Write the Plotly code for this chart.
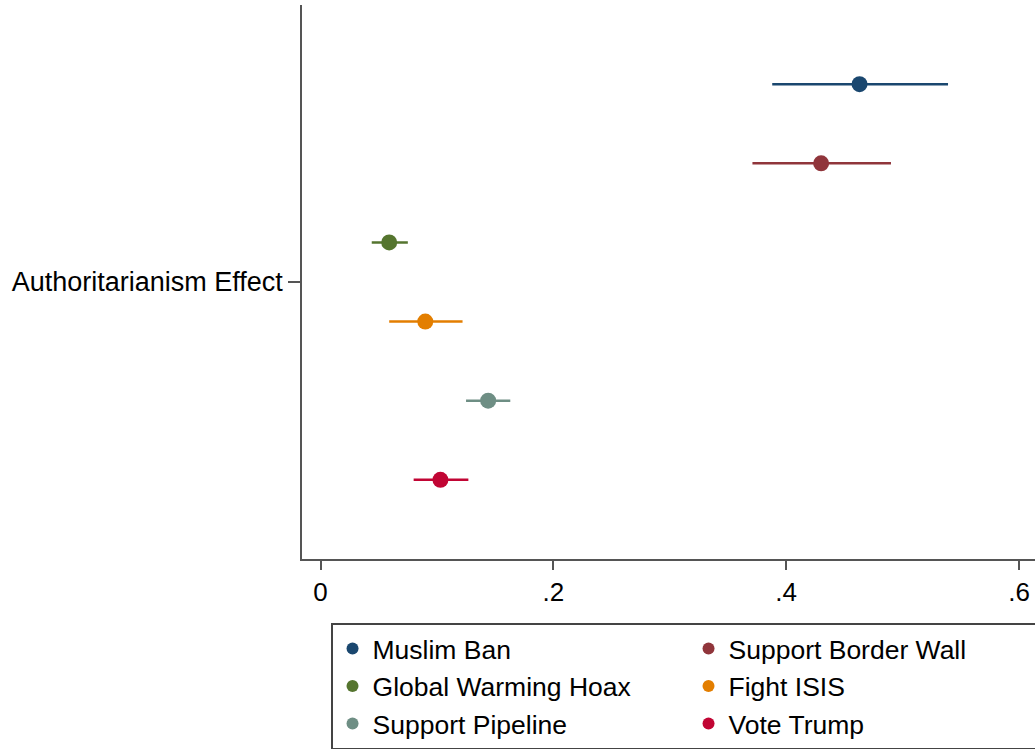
import plotly.graph_objects as go

series = ["Muslim Ban", "Support Border Wall", "Global Warming Hoax",
          "Fight ISIS", "Support Pipeline", "Vote Trump"]
estimates = [0.463, 0.430, 0.059, 0.090, 0.144, 0.103]
ci_low = [0.388, 0.371, 0.044, 0.059, 0.125, 0.080]
ci_high = [0.539, 0.490, 0.075, 0.122, 0.163, 0.127]
colors = ["#1a476f", "#90353b", "#55752f", "#e37e00", "#6e8e84", "#c10534"]
category = "Authoritarianism Effect"
x_ticks = [0, 0.2, 0.4, 0.6]
x_labels = ["0", ".2", ".4", ".6"]

n = len(series)
fig = go.Figure()
for i, name in enumerate(series):
    off = (n - 1) / 2 - i
    fig.add_trace(go.Scatter(
        x=[estimates[i]], y=[off], mode="markers", name=name,
        marker=dict(color=colors[i], size=16, line=dict(width=0)),
        error_x=dict(type="data", symmetric=False,
                     array=[ci_high[i] - estimates[i]],
                     arrayminus=[estimates[i] - ci_low[i]],
                     color=colors[i], thickness=2.5, width=0),
    ))

font = "Liberation Sans, Arial, Helvetica, sans-serif"
fig.update_layout(
    width=1035, height=754,
    margin=dict(l=302, r=0, t=5, b=195, autoexpand=False),
    plot_bgcolor="white", paper_bgcolor="white",
    font=dict(family=font, size=25, color="black"),
    showlegend=True,
    legend=dict(
        orientation="h", x=0.0396, xanchor="left", y=-0.116, yanchor="top",
        bordercolor="#444", borderwidth=1.5, bgcolor="white",
        entrywidth=311, entrywidthmode="pixels",
        font=dict(size=26.5, family=font), tracegroupgap=0,
        itemsizing="constant",
    ),
    xaxis=dict(
        range=[-0.0159, 0.6137], tickvals=x_ticks, ticktext=x_labels,
        showgrid=False, zeroline=False, showline=True, linecolor="#555",
        linewidth=1.5, ticks="outside", ticklen=9, tickcolor="#555",
        tickwidth=1.5, tickfont=dict(size=26),
    ),
    yaxis=dict(
        range=[-3.5, 3.5], tickvals=[0], ticktext=[category],
        showgrid=False, zeroline=False, showline=True, linecolor="#555",
        linewidth=1.5, ticks="outside", ticklen=12, tickcolor="#555",
        tickwidth=1.5, tickfont=dict(size=27),
    ),
)

fig.write_html("out.html")
